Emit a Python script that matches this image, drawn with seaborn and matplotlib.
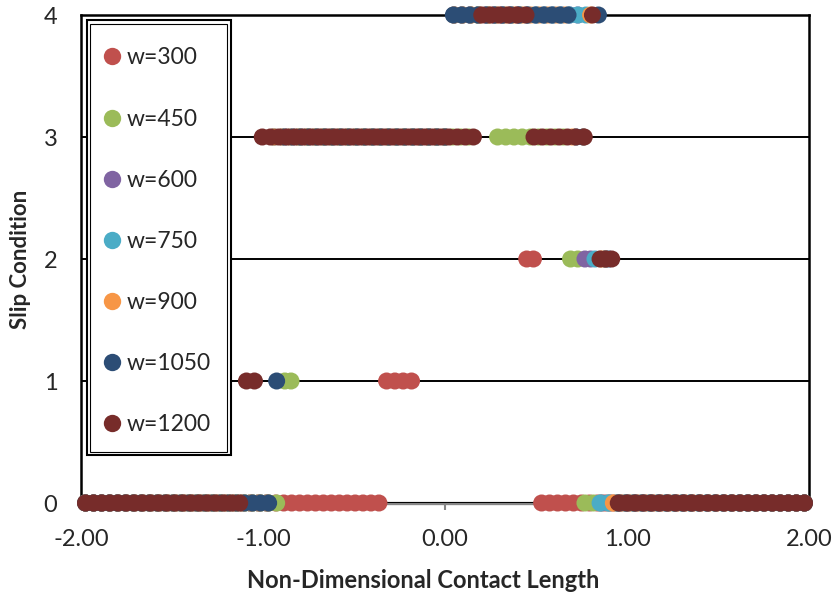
import numpy as np
import pandas as pd
import matplotlib
matplotlib.use("Agg")
import matplotlib.pyplot as plt
from matplotlib.patches import Rectangle
from matplotlib.lines import Line2D
import seaborn as sns

# ---- data: runs of (slip condition, first x, last x, number of points) ----
series_labels = ["w=300", "w=450", "w=600", "w=750", "w=900", "w=1050", "w=1200"]
series_colors = ["#C0504D", "#9BBB59", "#8064A2", "#4BACC6", "#F79646", "#2C4D75", "#772C2A"]

w300_runs = [(0, -1.975, -0.363, 38), (1, -0.321, -0.184, 4), (3, -0.14, 0.0, 4),
             (4, 0.05, 0.40, 9), (2, 0.449, 0.486, 2), (0, 0.531, 1.975, 34)]
w450_runs = [(0, -1.975, -0.925, 25), (1, -0.88, -0.846, 2), (3, -0.80, 0.13, 22),
             (4, 0.18, 0.24, 2), (3, 0.289, 0.65, 9), (2, 0.69, 0.73, 2), (0, 0.769, 1.975, 28)]
w600_runs = [(0, -1.975, -0.98, 23), (3, -0.94, 0.0, 22), (4, 0.05, 0.73, 16),
             (2, 0.769, 0.80, 2), (0, 0.86, 1.975, 26)]
w750_runs = [(0, -1.975, -0.98, 23), (3, -0.94, 0.0, 22), (4, 0.05, 0.775, 17),
             (2, 0.824, 0.824, 1), (0, 0.852, 1.975, 26)]
w900_runs = [(0, -1.975, -0.98, 23), (3, -0.94, 0.0, 22), (4, 0.05, 0.66, 14),
             (3, 0.70, 0.76, 2), (4, 0.80, 0.80, 1), (2, 0.86, 0.88, 2), (0, 0.925, 1.975, 25)]
w1050_runs = [(0, -1.975, -0.969, 24), (1, -0.925, -0.925, 1), (3, -0.88, 0.0, 21),
              (4, 0.046, 0.676, 15), (3, 0.72, 0.76, 2), (4, 0.843, 0.843, 1),
              (2, 0.88, 0.90, 2), (0, 0.96, 1.975, 24)]
w1200_runs = [(0, -1.975, -1.128, 20), (1, -1.091, -1.047, 2), (3, -1.004, 0.156, 27),
              (4, 0.202, 0.445, 6), (3, 0.489, 0.765, 7), (4, 0.81, 0.81, 1),
              (2, 0.852, 0.916, 3), (0, 0.952, 1.975, 24)]

x_ticks = [-2.0, -1.0, 0.0, 1.0, 2.0]
y_ticks = [0, 1, 2, 3, 4]

all_runs = [w300_runs, w450_runs, w600_runs, w750_runs, w900_runs, w1050_runs, w1200_runs]

rows = []
for label, runs in zip(series_labels, all_runs):
    for cond, x0, x1, n in runs:
        for xv in np.linspace(x0, x1, n):
            rows.append((label, xv, cond))
df = pd.DataFrame(rows, columns=["series", "x", "cond"])

# ---- figure ----
sns.set_style("white")
plt.rcParams["font.family"] = ["Lato", "DejaVu Sans"]

W, H = 837, 604
AX_L, AX_R, AX_T, AX_B = 81, 809, 15, 503
AW, AH = AX_R - AX_L, AX_B - AX_T

fig = plt.figure(figsize=(W / 100, H / 100), dpi=100)
ax = fig.add_axes([AX_L / W, (H - AX_B) / H, AW / W, AH / H])


def px_to_axes(px, py):
    return (px - AX_L) / AW, (AX_B - py) / AH


for yv in [1, 2, 3, 4]:
    ax.axhline(yv, color="black", lw=1.4, zorder=1)
ax.axhline(0, color="black", lw=1.4, zorder=2.7)

palette = dict(zip(series_labels, series_colors))
sns.scatterplot(data=df, x="x", y="cond", hue="series", palette=palette,
                hue_order=series_labels, s=150, linewidth=0, ax=ax,
                legend=False, zorder=3, clip_on=False)

ax.set_xlim(-2, 2)
ax.set_ylim(0, 4)
ax.set_xticks(x_ticks)
ax.set_xticklabels([f"{v:.2f}" for v in x_ticks])
ax.set_yticks(y_ticks)
ax.set_yticklabels([str(v) for v in y_ticks])

for side in ["left", "top", "right"]:
    ax.spines[side].set_color("black")
    ax.spines[side].set_linewidth(1.8)
ax.spines["bottom"].set_color("#868686")
ax.spines["bottom"].set_linewidth(2.4)

ax.tick_params(axis="x", direction="out", length=5, width=1.5, color="#868686",
               labelsize=17, pad=14, bottom=True)
ax.tick_params(axis="y", direction="out", length=0, labelsize=17, pad=17, left=True)

ax.set_xlabel("Non-Dimensional Contact Length", fontsize=17, fontweight="bold")
ax.xaxis.set_label_coords(*px_to_axes(423, 569))
ax.set_ylabel("Slip Condition", fontsize=16, fontweight="bold")
ax.yaxis.set_label_coords(*px_to_axes(31, 259))

# legend box (double border) drawn as patches, entries via ax.legend
ox0, oy0 = px_to_axes(87, 455)
ox1, oy1 = px_to_axes(231, 20)
ax.add_patch(Rectangle((ox0, oy0), ox1 - ox0, oy1 - oy0, transform=ax.transAxes,
                       facecolor="white", edgecolor="black", linewidth=1.5,
                       zorder=9, clip_on=False))
ix0, iy0 = px_to_axes(90.5, 451.5)
ix1, iy1 = px_to_axes(227.5, 23.5)
ax.add_patch(Rectangle((ix0, iy0), ix1 - ix0, iy1 - iy0, transform=ax.transAxes,
                       facecolor="none", edgecolor="black", linewidth=0.8,
                       zorder=9.5, clip_on=False))

fs = 16.5
fs_px = fs * 100 / 72
hl = 0.8
handles = [Line2D([], [], marker="o", linestyle="none", markersize=12.5,
                  markerfacecolor=c, markeredgewidth=0) for c in series_colors]
leg = ax.legend(handles, series_labels, loc="upper left",
                bbox_to_anchor=px_to_axes(112 - hl * fs_px / 2, 47.5),
                fontsize=fs, frameon=False, borderpad=0, labelspacing=1.75,
                handlelength=hl, handletextpad=0.26, borderaxespad=0)
leg.set_zorder(10)

fig.savefig("out.png", dpi=100)
